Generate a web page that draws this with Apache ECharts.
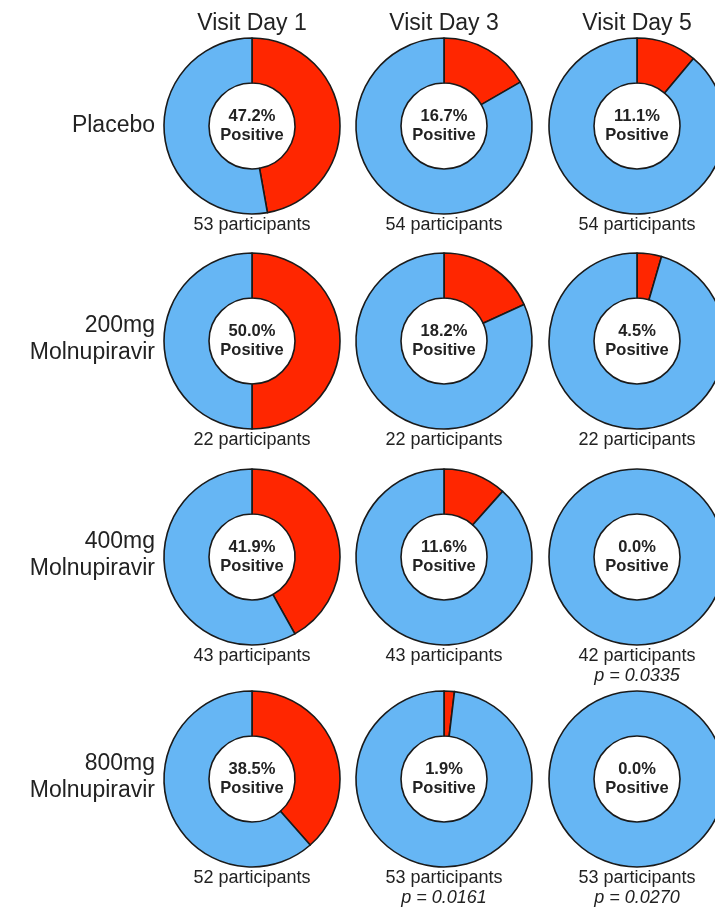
<!DOCTYPE html>
<html>
<head>
<meta charset="utf-8">
<style>
  html, body { margin: 0; padding: 0; background: #fff; }
  #chart { width: 715px; height: 908px; }
</style>
<script src="https://cdn.jsdelivr.net/npm/echarts@6/dist/echarts.min.js"></script>
</head>
<body>
<div id="chart"></div>
<script>
// Visit days (columns) and treatment groups (rows)
const visitDays = ['Visit Day 1', 'Visit Day 3', 'Visit Day 5'];
const groups = [['Placebo'], ['200mg', 'Molnupiravir'], ['400mg', 'Molnupiravir'], ['800mg', 'Molnupiravir']];

// Percent of participants positive, one array per group (Day 1, Day 3, Day 5)
const placeboPositive = [47.2, 16.7, 11.1];
const mg200Positive = [50.0, 18.2, 4.5];
const mg400Positive = [41.9, 11.6, 0.0];
const mg800Positive = [38.5, 1.9, 0.0];

// Participants per visit
const placeboN = [53, 54, 54];
const mg200N = [22, 22, 22];
const mg400N = [43, 43, 42];
const mg800N = [52, 53, 53];

// p-values versus placebo (null where none reported)
const placeboP = [null, null, null];
const mg200P = [null, null, null];
const mg400P = [null, null, '0.0335'];
const mg800P = [null, '0.0161', '0.0270'];

const positive = [placeboPositive, mg200Positive, mg400Positive, mg800Positive];
const participants = [placeboN, mg200N, mg400N, mg800N];
const pValues = [placeboP, mg200P, mg400P, mg800P];

// Layout of the grid of donuts
const colX = [252, 444, 637];
const rowY = [126, 341, 557, 779];
const outerR = 88, innerR = 43;

const RED = '#ff2600', BLUE = '#66b6f4', EDGE = '#1a1a1a', TEXT = '#222';
const FONT = '"Liberation Sans", Arial, sans-serif';

const series = [];
const graphics = [];

visitDays.forEach((d, c) => {
  graphics.push({
    type: 'text', x: colX[c], y: 24,
    style: { text: d, font: '23px ' + FONT, fill: TEXT, textAlign: 'center', textVerticalAlign: 'middle' }
  });
});

groups.forEach((g, r) => {
  graphics.push({
    type: 'text', x: 155, y: g.length > 1 ? rowY[r] - 2 : rowY[r],
    style: {
      text: g.join('\n'), font: '23px ' + FONT, fill: TEXT, lineHeight: 27,
      textAlign: 'right', textVerticalAlign: 'middle'
    }
  });

  visitDays.forEach((d, c) => {
    const pct = positive[r][c];
    series.push({
      type: 'pie',
      center: [colX[c], rowY[r]],
      radius: [innerR, outerR],
      startAngle: 90,
      clockwise: true,
      minAngle: 0,
      silent: true,
      animation: false,
      labelLine: { show: false },
      label: { show: false },
      data: [
        {
          name: 'Positive', value: pct,
          itemStyle: { color: RED, borderColor: EDGE, borderWidth: pct > 0 ? 1.6 : 0 }
        },
        {
          name: 'Negative', value: 100 - pct,
          itemStyle: { color: BLUE, borderColor: EDGE, borderWidth: 1.6 },
          label: {
            show: true, position: 'center',
            formatter: pct.toFixed(1) + '%\nPositive',
            fontFamily: FONT, fontWeight: 'bold', fontSize: 16.5, lineHeight: 19, color: TEXT
          }
        }
      ]
    });

    graphics.push({
      type: 'text', x: colX[c], y: rowY[r] + 99,
      style: { text: participants[r][c] + ' participants', font: '18px ' + FONT, fill: TEXT, textAlign: 'center', textVerticalAlign: 'middle' }
    });
    if (pValues[r][c]) {
      graphics.push({
        type: 'text', x: colX[c], y: rowY[r] + 119,
        style: { text: 'p = ' + pValues[r][c], font: 'italic 18px ' + FONT, fill: TEXT, textAlign: 'center', textVerticalAlign: 'middle' }
      });
    }
  });
});

const chart = echarts.init(document.getElementById('chart'), null, { renderer: 'canvas' });
chart.setOption({
  backgroundColor: '#fff',
  animation: false,
  series: series,
  graphic: graphics
});
</script>
</body>
</html>
